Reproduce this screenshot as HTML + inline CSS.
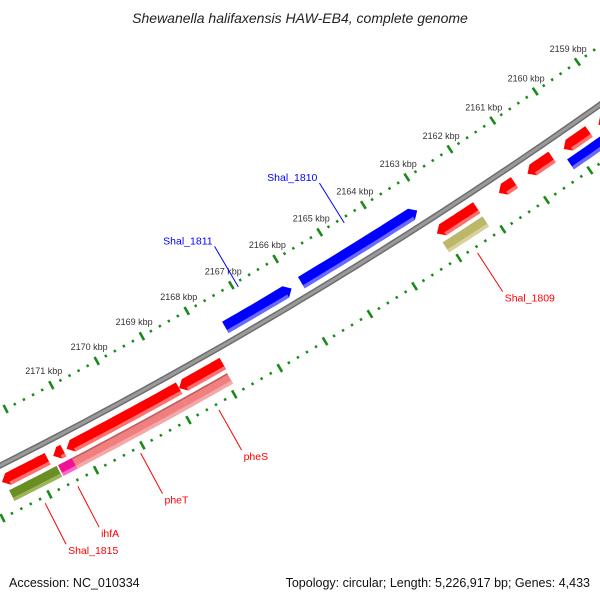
<!DOCTYPE html>
<html><head><meta charset="utf-8"><style>
html,body{margin:0;padding:0;background:#fff}
svg{display:block}
text{font-family:"Liberation Sans",sans-serif}
</style></head><body>
<svg id="map" width="600" height="600" viewBox="0 0 600 600" xmlns="http://www.w3.org/2000/svg">
<rect width="600" height="600" fill="#fff"/>
<text x="300" y="23" font-size="14" font-style="italic" text-anchor="middle" fill="#222">Shewanella halifaxensis HAW-EB4, complete genome</text>
<g id="ticks"></g>
<g id="backbone"></g>
<g id="feats"></g>
<g id="labels"></g>
<text x="9" y="587" font-size="12.5" fill="#111">Accession: NC_010334</text>
<text x="590" y="587" font-size="12.5" text-anchor="end" fill="#111">Topology: circular; Length: 5,226,917 bp; Genes: 4,433</text>
</svg>
<script>
// feature data (kbp)
const featNames = ["Shal_1811","Shal_1810","Shal_1815","ihfA","pheT","pheS","Shal_1809","g1","g2","g3","g4","c1815","cihfA","cpheT","cpheS","c1809","cg4"];
const featStart = [2166.03,2163.18,2171.72,2171.38,2168.86,2167.90,2162.19,2161.32,2160.45,2159.59,2158.5,2171.63,2171.30,2168.90,2167.92,2162.19,2158.8];
const featEnd   = [2167.51,2165.81,2172.70,2171.60,2171.31,2168.86,2163.10,2161.68,2161.02,2160.18,2159.37,2172.65,2171.60,2171.30,2168.90,2163.10,2160.24];
const featRow   = [0,0,1,1,1,1,1,1,1,1,1,2,2,2,2,2,2];
const featColor = ["#0000ff","#0000ff","#ff0000","#ff0000","#ff0000","#ff0000","#ff0000","#ff0000","#ff0000","#ff0000","#ff0000","#6b8e23","#f0128e","#f08080","#f08080","#bdb76b","#0000ff"];
const featShade = ["#6a6aff","#6a6aff","#ff7070","#ff7070","#ff7070","#ff7070","#ff7070","#ff7070","#ff7070","#ff7070","#ff7070","#9ab55a","#ff66cc","#f5a8a8","#f5a8a8","#d6d29a","#6a6aff"];
const featArrow = [-1,-1,1,1,1,1,1,1,1,1,1,0,0,0,0,0,0];
const tickKbp = [2159,2160,2161,2162,2163,2164,2165,2166,2167,2168,2169,2170,2171];
const geneLabels = ["Shal_1810","Shal_1811","Shal_1809","pheS","pheT","ihfA","Shal_1815"];
const geneLabelColor = ["#0000ff","#0000ff","#ff0000","#ff0000","#ff0000","#ff0000","#ff0000"];
const geneLabelKbp = [2164.5,2166.9,2162.65,2168.4,2170.1,2171.45,2172.15];
const geneLabelRow = [0,0,2,2,2,2,2];

const NS="http://www.w3.org/2000/svg";
const CX=-2131, CY=-3756, R=4729;
const rows=[[R-21,R-8],[R+9,R+22],[R+26,R+38]];
function ang(k){return (58.43+(k-2165)*0.6303)*Math.PI/180;}
function P(r,k){const a=ang(k);return [CX+r*Math.cos(a),CY+r*Math.sin(a)];}
function mk(tag,attrs,parent){const e=document.createElementNS(NS,tag);for(const k in attrs)e.setAttribute(k,attrs[k]);parent.appendChild(e);return e;}
function pts(a){return a.map(p=>p[0].toFixed(1)+","+p[1].toFixed(1)).join(" ");}

// backbone
const bb=document.getElementById('backbone');
let bpts=[];for(let k=2157;k<=2174;k+=0.25)bpts.push(P(R,k));
const b1=mk('polyline',{points:pts(bpts),fill:'none',stroke:'#6e6e6e','stroke-width':6},bb);


const b2=mk('polyline',{points:pts(bpts),fill:'none',stroke:'#9a9a9a','stroke-width':3},bb);



// ticks
const tg=document.getElementById('ticks');
for(let i=0;i<=80;i++){
  const k=2157+i*0.2; const major=Math.abs(k-Math.round(k))<0.01;
  [R-48,R+48].forEach((rr,j)=>{
    const h=major?4.5:1.3;
    const a=P(rr-h,k),b=P(rr+h,k);
    const l=mk('line',{x1:a[0],y1:a[1],x2:b[0],y2:b[1],stroke:'#1a8a1a','stroke-width':major?2.6:2.4},tg);
    
    
  });
}
tickKbp.forEach(k=>{
  const p=P(R-48-16,k);
  const t=mk('text',{x:p[0].toFixed(1),y:(p[1]+3).toFixed(1),'font-size':9,'text-anchor':'middle',fill:'#333'},tg);
  t.textContent=k+" kbp";
  
  
});

// features
const fg=document.getElementById('feats');
featStart.forEach((s,i)=>{
  const e=featEnd[i]; const [r1,r2]=rows[featRow[i]]; const rm=(r1+r2)/2;
  const head=0.13; const dir=featArrow[i];
  let a=s,b=e; if(dir<0)a=s+head; if(dir>0)b=e-head;
  const n=12; let top=[],bot=[];
  for(let j=0;j<=n;j++){const k=a+(b-a)*j/n;top.push(P(r1,k));bot.push(P(r2,k));}
  let poly=top.slice();
  if(dir>0)poly.push(P(rm,e));
  poly=poly.concat(bot.slice().reverse());
  if(dir<0)poly.push(P(rm,s));
  const g=mk('g',{},fg);
  
  
  mk('polygon',{points:pts(poly),fill:featColor[i]},g);
  // shade strip at outer radius
  const rs=r2-3.5; let st=[],sb=[];
  for(let j=0;j<=n;j++){const k=a+(b-a)*j/n;st.push(P(rs,k));sb.push(P(r2,k));}
  let sp=st.concat(sb.reverse());
  mk('polygon',{points:pts(sp),fill:featShade[i]},g);
  if(featColor[i]=="#f08080"){const tl=[];for(let j=0;j<=n;j++)tl.push(P(r1+0.8,a+(b-a)*j/n));mk('polyline',{points:pts(tl),fill:'none',stroke:'#c06060','stroke-width':1.6},g);}
});

// gene labels
const lg=document.getElementById('labels');
geneLabels.forEach((name,i)=>{
  const k=geneLabelKbp[i]; const out=geneLabelRow[i]==0;
  const p1=out?P(R-43,k):P(R+54,k);
  const p2=out?P(R-90,k):P(R+100,k);
  const l=mk('line',{x1:p1[0],y1:p1[1],x2:p2[0],y2:p2[1],stroke:geneLabelColor[i],'stroke-width':1},lg);
  
  
  const t=mk('text',{x:out?(p2[0]-2).toFixed(1):(p2[0]+2).toFixed(1),y:out?(p2[1]-2).toFixed(1):(p2[1]+10).toFixed(1),'font-size':10.5,'text-anchor':out?'end':'start',fill:geneLabelColor[i]},lg);
  t.textContent=name;
  
  
});
</script>
</body></html>
